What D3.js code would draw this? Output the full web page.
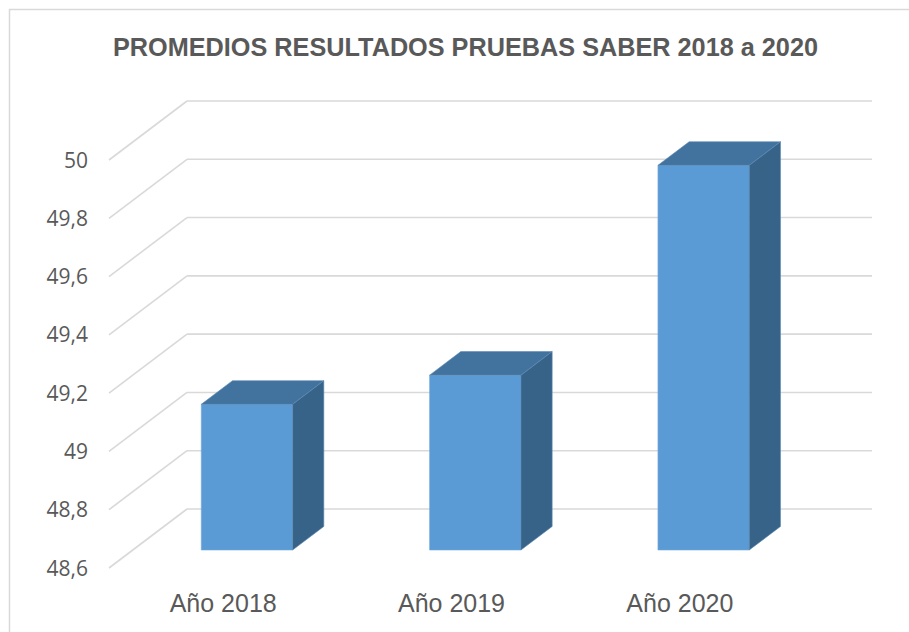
<!DOCTYPE html>
<html>
<head>
<meta charset="utf-8">
<script src="https://cdn.jsdelivr.net/npm/d3@7"></script>
<style>
  body { margin: 0; background: #fff; }
</style>
</head>
<body>
<svg id="chart"></svg>
<script>
// chart data
var categories = ["Año 2018", "Año 2019", "Año 2020"];
var values = [49.1, 49.2, 49.92];
var yTicks = [48.6, 48.8, 49, 49.2, 49.4, 49.6, 49.8, 50];
var title = "PROMEDIOS RESULTADOS PRUEBAS SABER 2018 a 2020";

var width = 909,
    height = 632,
    depthX = 78,   // how far the back wall sits right of the front edge
    depthY = 59,   // and how far up
    barFront = 0.695, // bar front plane, as fraction of depth from the back wall
    barBack = 0.295;

var svg = d3.select("#chart")
    .attr("width", width)
    .attr("height", height);

// outer frame
svg.append("rect")
    .attr("x", 9.5).attr("y", 9.5)
    .attr("width", 1000).attr("height", 1000)
    .attr("fill", "none")
    .attr("stroke", "#d9d9d9")
    .attr("stroke-width", 1.5);

// scales work on the back wall
var xScale = d3.scaleBand().domain(categories).range([187, 872])
    .paddingInner(0.6).paddingOuter(0.3);
var yScale = d3.scaleLinear().domain([48.6, 50]).range([509, 101]);

// shift a back-wall point toward the viewer by s (0 = back, 1 = front)
function proj(x, y, s) {
    return [x - s * depthX, y + s * depthY];
}

// gridlines: back wall + left wall diagonals
var grid = svg.append("g");
yTicks.forEach(function(t) {
    var y = yScale(t);
    var f = proj(187, y, 1);
    grid.append("line")
        .attr("x1", 187).attr("x2", 872)
        .attr("y1", y).attr("y2", y)
        .attr("stroke", "#d9d9d9").attr("stroke-width", 1.6);
    grid.append("line")
        .attr("x1", f[0]).attr("y1", f[1])
        .attr("x2", 187).attr("y2", y)
        .attr("stroke", "#d9d9d9").attr("stroke-width", 1.6);
});

// y tick labels on the front edge
svg.append("g").selectAll("text").data(yTicks).enter().append("text")
    .attr("x", 88)
    .attr("y", function(d) { return proj(187, yScale(d), 1)[1]; })
    .attr("dy", "0.36em")
    .attr("text-anchor", "end")
    .attr("font-family", "'Open Sans', sans-serif")
    .attr("font-size", 21)
    .attr("fill", "#595959")
    .text(function(d) { return String(d).replace(".", ","); });

// bars
var bars = svg.append("g").selectAll("g").data(values).enter().append("g");

function poly(pts) {
    return pts.map(function(p) { return p.join(","); }).join(" ");
}

bars.each(function(d, i) {
    var g = d3.select(this);
    var x0 = xScale(categories[i]),
        x1 = x0 + xScale.bandwidth(),
        yT = yScale(d),
        yB = yScale(48.6);
    // front face
    g.append("polygon")
        .attr("points", poly([proj(x0, yT, barFront), proj(x1, yT, barFront),
                              proj(x1, yB, barFront), proj(x0, yB, barFront)]))
        .attr("fill", "#5b9bd5")
        .attr("stroke", "#6fa8dc").attr("stroke-width", 0.6);
    // top face
    g.append("polygon")
        .attr("points", poly([proj(x0, yT, barFront), proj(x0, yT, barBack),
                              proj(x1, yT, barBack), proj(x1, yT, barFront)]))
        .attr("fill", "#42729e")
        .attr("stroke", "#5b8ab5").attr("stroke-width", 0.6);
    // right side face
    g.append("polygon")
        .attr("points", poly([proj(x1, yT, barFront), proj(x1, yT, barBack),
                              proj(x1, yB, barBack), proj(x1, yB, barFront)]))
        .attr("fill", "#386389")
        .attr("stroke", "#5b8ab5").attr("stroke-width", 0.6);
});

// category labels along the front edge
svg.append("g").selectAll("text").data(categories).enter().append("text")
    .attr("x", function(d) { return xScale(d) + xScale.bandwidth() / 2 - depthX; })
    .attr("y", 612)
    .attr("text-anchor", "middle")
    .attr("font-family", "'Liberation Sans', Arial, sans-serif")
    .attr("font-size", 25)
    .attr("fill", "#595959")
    .text(function(d) { return d; });

// title
svg.append("text")
    .attr("x", 465.5)
    .attr("y", 56)
    .attr("text-anchor", "middle")
    .attr("font-family", "'Liberation Sans', Arial, sans-serif")
    .attr("font-weight", "bold")
    .attr("font-size", 25.5)
    .attr("textLength", 705)
    .attr("lengthAdjust", "spacingAndGlyphs")
    .attr("fill", "#595959")
    .text(title);
</script>
</body>
</html>
